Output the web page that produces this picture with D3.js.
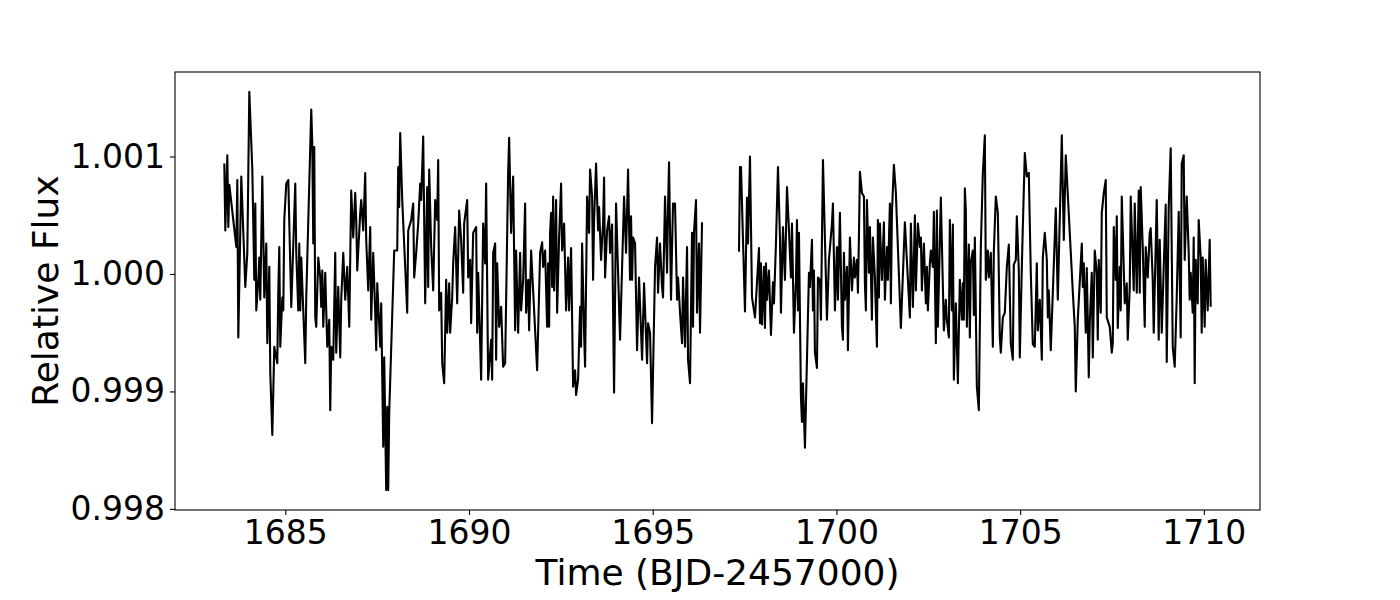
<!DOCTYPE html>
<html>
<head>
<meta charset="utf-8">
<script src="https://cdn.jsdelivr.net/npm/d3@7"></script>
<style>
  body { margin: 0; background: #fff; }
  text { font-family: "DejaVu Sans", sans-serif; fill: #000; }
</style>
</head>
<body>
<script>
// light curve, first orbit (before the data gap)
var timeA = [1683.340,1683.367,1683.422,1683.449,1683.476,1683.666,1683.694,1683.721,1683.802,1683.911,
  1683.966,1684.020,1684.102,1684.156,1684.183,1684.210,1684.265,1684.292,1684.319,1684.374,
  1684.428,1684.482,1684.510,1684.564,1684.591,1684.646,1684.700,1684.782,1684.809,1684.836,
  1684.863,1684.918,1684.945,1684.972,1685.026,1685.081,1685.162,1685.271,1685.298,1685.353,
  1685.380,1685.407,1685.434,1685.543,1685.570,1685.706,1685.734,1685.761,1685.788,1685.815,
  1685.842,1685.897,1685.951,1685.978,1686.006,1686.033,1686.087,1686.114,1686.142,1686.196,
  1686.223,1686.250,1686.305,1686.359,1686.386,1686.441,1686.495,1686.522,1686.577,1686.631,
  1686.686,1686.740,1686.794,1686.849,1686.903,1686.930,1686.958,1687.039,1687.066,1687.121,
  1687.175,1687.202,1687.257,1687.311,1687.338,1687.393,1687.447,1687.474,1687.502,1687.583,
  1687.610,1687.665,1687.692,1687.746,1687.774,1687.801,1687.828,1687.964,1688.046,1688.073,
  1688.100,1688.127,1688.182,1688.318,1688.345,1688.426,1688.481,1688.508,1688.562,1688.617,
  1688.671,1688.698,1688.753,1688.807,1688.862,1688.889,1688.916,1688.970,1689.025,1689.079,
  1689.134,1689.161,1689.188,1689.242,1689.270,1689.324,1689.378,1689.406,1689.460,1689.487,
  1689.542,1689.569,1689.623,1689.678,1689.732,1689.786,1689.841,1689.868,1689.950,1689.977,
  1690.031,1690.058,1690.113,1690.194,1690.222,1690.249,1690.303,1690.330,1690.358,1690.385,
  1690.439,1690.466,1690.521,1690.602,1690.630,1690.657,1690.711,1690.738,1690.766,1690.820,
  1690.874,1690.929,1690.983,1691.065,1691.092,1691.146,1691.201,1691.255,1691.282,1691.337,
  1691.391,1691.418,1691.473,1691.527,1691.554,1691.609,1691.636,1691.690,1691.854,1691.935,
  1691.990,1692.017,1692.071,1692.126,1692.153,1692.180,1692.207,1692.234,1692.262,1692.289,
  1692.316,1692.370,1692.398,1692.452,1692.506,1692.534,1692.588,1692.642,1692.697,1692.724,
  1692.778,1692.833,1692.887,1692.914,1692.969,1693.023,1693.050,1693.078,1693.132,1693.159,
  1693.214,1693.268,1693.295,1693.350,1693.377,1693.404,1693.458,1693.513,1693.540,1693.594,
  1693.649,1693.676,1693.703,1693.758,1693.812,1693.839,1693.894,1693.948,1694.002,1694.111,
  1694.220,1694.274,1694.329,1694.383,1694.410,1694.438,1694.465,1694.519,1694.574,1694.628,
  1694.710,1694.764,1694.846,1694.873,1694.927,1694.982,1695.063,1695.118,1695.145,1695.199,
  1695.254,1695.281,1695.335,1695.390,1695.417,1695.444,1695.498,1695.526,1695.553,1695.607,
  1695.662,1695.689,1695.743,1695.798,1695.825,1695.879,1695.934,1695.961,1696.015,1696.070,
  1696.097,1696.124,1696.178,1696.206,1696.260,1696.287,1696.342];
var fluxA = [1.00094,1.00037,1.00101,1.00040,1.00076,1.00023,1.00080,0.99946,1.00083,0.99989,
  1.00018,1.00155,1.00089,0.99995,1.00060,0.99969,0.99995,1.00014,0.99978,1.00083,
  0.99980,1.00026,0.99941,1.00006,0.99916,0.99863,0.99938,0.99924,0.99984,1.00023,
  0.99938,0.99980,0.99969,1.00046,1.00077,1.00080,0.99972,1.00077,1.00018,0.99969,
  1.00026,0.99969,1.00014,0.99924,0.99980,1.00140,1.00111,1.00026,1.00108,0.99963,
  0.99955,1.00014,0.99997,0.99972,1.00003,0.99955,1.00001,0.99969,0.99938,0.99961,
  0.99884,0.99938,0.99927,1.00018,0.99933,0.99989,0.99929,0.99978,1.00018,0.99978,
  1.00006,0.99955,1.00071,1.00031,1.00069,1.00046,1.00003,1.00052,1.00063,1.00037,
  1.00086,1.00029,0.99986,1.00040,0.99961,1.00018,0.99967,0.99935,0.99992,0.99938,
  0.99975,0.99853,0.99929,0.99816,0.99887,0.99816,0.99882,1.00020,1.00020,1.00091,
  1.00057,1.00120,1.00063,0.99967,1.00037,1.00046,1.00060,0.99997,1.00018,1.00043,
  1.00077,1.00063,1.00117,0.99975,1.00074,0.99989,1.00089,1.00023,0.99986,1.00063,
  1.00046,1.00097,0.99969,0.99984,0.99924,0.99907,0.99995,0.99950,0.99992,0.99950,
  0.99980,1.00009,1.00040,0.99975,1.00054,1.00029,0.99984,1.00043,1.00063,0.99997,
  1.00012,0.99958,1.00035,1.00040,0.99950,1.00001,0.99941,0.99910,0.99978,1.00043,
  1.00009,1.00077,0.99910,0.99944,0.99910,1.00018,1.00026,0.99927,1.00009,0.99955,
  0.99972,0.99921,0.99924,1.00086,1.00116,1.00035,1.00083,0.99952,1.00020,0.99950,
  1.00018,0.99969,0.99995,1.00060,0.99967,0.99995,0.99952,1.00020,0.99918,1.00018,
  1.00027,1.00006,1.00020,0.99955,1.00009,0.99955,1.00035,1.00052,0.99989,1.00066,
  0.99986,1.00063,0.99967,1.00031,1.00077,1.00020,1.00043,0.99969,1.00014,0.99969,
  1.00022,0.99904,0.99918,0.99897,0.99910,0.99972,0.99938,1.00026,0.99950,0.99921,
  1.00066,1.00035,1.00089,1.00066,0.99995,1.00046,1.00094,1.00037,1.00057,1.00012,
  1.00043,1.00082,0.99997,1.00037,1.00049,1.00018,1.00042,0.99899,1.00060,0.99944,
  1.00066,1.00018,1.00089,0.99995,1.00049,0.99995,1.00031,1.00026,0.99935,0.99997,
  0.99927,0.99992,0.99924,0.99958,0.99950,0.99873,1.00006,1.00031,0.99984,1.00026,
  0.99989,0.99980,1.00066,1.00001,1.00057,1.00095,0.99978,1.00023,1.00060,1.00060,
  0.99978,0.99997,0.99967,0.99941,0.99997,0.99938,1.00023,0.99927,0.99907,1.00035,
  0.99955,1.00036,1.00063,0.99967,1.00026,0.99950,1.00044];

// second orbit (after the gap)
var timeB = [1697.348,1697.375,1697.402,1697.511,1697.566,1697.593,1697.647,1697.702,1697.783,1697.892,
  1697.919,1697.946,1697.974,1698.028,1698.055,1698.082,1698.110,1698.164,1698.218,1698.273,
  1698.300,1698.354,1698.409,1698.463,1698.490,1698.545,1698.599,1698.654,1698.708,1698.762,
  1698.790,1698.844,1698.898,1698.926,1698.953,1698.980,1699.034,1699.062,1699.089,1699.143,
  1699.252,1699.279,1699.334,1699.361,1699.388,1699.415,1699.470,1699.497,1699.551,1699.578,
  1699.633,1699.742,1699.796,1699.878,1699.905,1699.959,1700.014,1700.041,1700.095,1700.150,
  1700.177,1700.204,1700.231,1700.286,1700.313,1700.367,1700.422,1700.476,1700.503,1700.558,
  1700.585,1700.612,1700.639,1700.694,1700.748,1700.775,1700.802,1700.830,1700.884,1700.911,
  1700.966,1700.993,1701.047,1701.102,1701.129,1701.156,1701.183,1701.238,1701.292,1701.319,
  1701.374,1701.401,1701.455,1701.482,1701.510,1701.564,1701.618,1701.754,1701.863,1701.999,
  1702.026,1702.081,1702.135,1702.162,1702.217,1702.271,1702.298,1702.326,1702.380,1702.434,
  1702.462,1702.489,1702.543,1702.570,1702.625,1702.652,1702.706,1702.734,1702.761,1702.842,
  1702.924,1702.978,1703.006,1703.060,1703.087,1703.142,1703.169,1703.196,1703.250,1703.305,
  1703.359,1703.414,1703.441,1703.468,1703.495,1703.522,1703.550,1703.604,1703.631,1703.658,
  1703.713,1703.740,1703.767,1703.822,1703.876,1703.930,1703.985,1704.039,1704.066,1704.121,
  1704.148,1704.202,1704.257,1704.284,1704.338,1704.393,1704.447,1704.474,1704.529,1704.583,
  1704.638,1704.692,1704.746,1704.801,1704.828,1704.882,1704.910,1704.964,1704.991,1705.046,
  1705.073,1705.127,1705.182,1705.236,1705.290,1705.345,1705.399,1705.454,1705.481,1705.535,
  1705.590,1705.617,1705.671,1705.726,1705.753,1705.780,1705.834,1705.970,1706.025,1706.134,
  1706.188,1706.242,1706.433,1706.487,1706.514,1706.569,1706.678,1706.705,1706.732,1706.786,
  1706.814,1706.841,1706.868,1706.895,1706.950,1706.977,1707.031,1707.086,1707.113,1707.140,
  1707.194,1707.222,1707.276,1707.330,1707.358,1707.439,1707.494,1707.521,1707.548,1707.602,
  1707.630,1707.657,1707.711,1707.738,1707.766,1707.847,1707.902,1707.929,1707.983,1708.010,
  1708.065,1708.092,1708.119,1708.174,1708.228,1708.255,1708.282,1708.337,1708.391,1708.418,
  1708.473,1708.527,1708.554,1708.609,1708.636,1708.718,1708.772,1708.799,1708.854,1708.908,
  1708.962,1708.990,1709.044,1709.098,1709.153,1709.207,1709.262,1709.316,1709.370,1709.398,
  1709.452,1709.479,1709.534,1709.588,1709.615,1709.642,1709.697,1709.724,1709.751,1709.778,
  1709.833,1709.860,1709.914,1709.942,1709.969,1710.023,1710.050,1710.105,1710.159,1710.186];
var fluxB = [1.00019,1.00091,1.00091,0.99968,1.00065,1.00026,1.00100,0.99980,0.99963,1.00022,
  0.99958,1.00009,0.99957,1.00006,0.99954,1.00009,0.99978,1.00003,0.99948,0.99993,
  0.99975,1.00026,1.00091,1.00031,0.99967,1.00040,0.99995,1.00074,1.00037,0.99997,
  1.00043,0.99950,0.99995,1.00046,0.99969,1.00035,0.99895,0.99874,0.99907,0.99852,
  1.00001,0.99989,1.00029,0.99969,1.00003,0.99933,0.99920,0.99997,0.99995,0.99961,
  1.00097,0.99961,1.00012,1.00043,1.00060,0.99969,1.00023,0.99978,1.00052,0.99955,
  0.99944,1.00018,0.99978,1.00006,0.99935,1.00031,0.99986,1.00014,0.99997,1.00012,
  0.99984,1.00031,1.00087,1.00069,1.00066,0.99992,0.99969,1.00063,1.00001,1.00040,
  0.99961,1.00031,0.99997,0.99938,1.00046,0.99980,1.00043,0.99995,1.00044,0.99978,
  1.00023,0.99995,1.00060,0.99975,1.00052,1.00093,1.00069,0.99954,1.00044,0.99963,
  1.00043,0.99972,1.00050,0.99986,1.00043,1.00023,1.00031,0.99986,1.00026,0.99975,
  1.00006,0.99969,1.00009,1.00020,1.00006,1.00053,0.99941,1.00054,0.99955,1.00065,
  0.99952,0.99978,0.99961,0.99946,1.00046,0.99969,1.00042,0.99910,0.99975,0.99907,
  0.99995,0.99961,0.99992,0.99961,1.00073,1.00054,0.99955,1.00025,0.99946,1.00010,
  1.00020,0.99965,1.00031,0.99904,0.99884,1.00023,1.00086,1.00118,0.99995,1.00020,
  0.99997,1.00018,0.99938,1.00019,1.00066,1.00052,0.99946,0.99933,0.99963,0.99967,
  1.00006,1.00025,0.99941,0.99927,1.00008,1.00012,1.00049,1.00003,0.99929,1.00006,
  1.00040,1.00103,1.00083,1.00086,1.00001,0.99940,0.99938,1.00009,0.99952,0.99978,
  0.99927,1.00014,1.00035,1.00012,0.99963,0.99986,0.99935,1.00056,0.99978,1.00118,
  1.00029,1.00101,0.99985,0.99955,0.99900,0.99961,1.00026,0.99989,1.00009,0.99950,
  1.00005,0.99961,0.99912,0.99958,1.00001,0.99929,1.00020,1.00001,0.99944,1.00012,
  0.99967,1.00052,1.00069,1.00080,0.99963,0.99955,0.99933,0.99941,1.00040,0.99995,
  1.00049,0.99954,1.00006,0.99969,1.00066,0.99975,0.99992,0.99944,0.99989,1.00066,
  1.00012,0.99986,1.00060,0.99984,1.00071,0.99984,1.00074,1.00023,0.99955,1.00023,
  0.99997,1.00035,1.00039,0.99995,0.99950,1.00063,0.99944,1.00029,0.99950,1.00006,
  1.00059,0.99925,1.00057,1.00107,0.99938,0.99921,0.99980,1.00053,0.99946,1.00094,
  1.00101,1.00012,1.00066,1.00018,0.99978,1.00001,0.99967,1.00031,0.99907,1.00012,
  0.99975,1.00046,1.00014,0.99950,1.00014,0.99955,1.00012,0.99969,1.00029,0.99972];

var xTicks = [1685, 1690, 1695, 1700, 1705, 1710];
var yTicks = [0.998, 0.999, 1.000, 1.001];

// set dimensions for the svg
var margin = {top: 72, right: 140, bottom: 90, left: 175};
var w = 1400 - margin.left - margin.right;
var h = 600 - margin.top - margin.bottom;

var segA = timeA.map(function(t, i) { return {t: t, f: fluxA[i]}; });
var segB = timeB.map(function(t, i) { return {t: t, f: fluxB[i]}; });
var all = segA.concat(segB);

// matplotlib-style 5% padding on both axes
function padded(ext) {
  var d = (ext[1] - ext[0]) * 0.05;
  return [ext[0] - d, ext[1] + d];
}

var xScale = d3.scaleLinear()
               .domain(padded(d3.extent(all, function(d) { return d.t; })))
               .range([0, w]);
var yScale = d3.scaleLinear()
               .domain(padded(d3.extent(all, function(d) { return d.f; })))
               .range([h, 0]);

var svg = d3.select("body").append("svg")
            .attr('width', 1400)
            .attr('height', 600);

var focus = svg.append('g')
               .attr('transform', 'translate(' + margin.left + ',' + margin.top + ')');

var line = d3.line()
             .x(function(d) { return xScale(d.t); })
             .y(function(d) { return yScale(d.f); });

[segA, segB].forEach(function(seg) {
  focus.append('path')
       .datum(seg)
       .attr('fill', 'none')
       .attr('stroke', '#000')
       .attr('stroke-width', 2.1)
       .attr('stroke-linejoin', 'round')
       .attr('d', line);
});

// axes
var xAxis = d3.axisBottom(xScale)
              .tickValues(xTicks)
              .tickFormat(d3.format('d'))
              .tickSizeInner(5).tickSizeOuter(0).tickPadding(5);
var yAxis = d3.axisLeft(yScale)
              .tickValues(yTicks)
              .tickFormat(d3.format('.3f'))
              .tickSizeInner(5).tickSizeOuter(0).tickPadding(5);

var gX = focus.append('g')
              .attr('transform', 'translate(0,' + h + ')')
              .call(xAxis);
var gY = focus.append('g')
              .call(yAxis);

[gX, gY].forEach(function(g) {
  g.select('.domain').remove();
  g.selectAll('line').attr('stroke', '#000').attr('stroke-width', 1.1);
  g.selectAll('text').style('font-size', '33px').style('font-family', '"DejaVu Sans", sans-serif');
});
gX.selectAll('text').attr('dy', '0.72em');

// frame
focus.append('rect')
     .attr('width', w)
     .attr('height', h)
     .attr('fill', 'none')
     .attr('stroke', '#000')
     .attr('stroke-width', 1.1);

// labels
focus.append('text')
     .attr('text-anchor', 'middle')
     .attr('transform', 'translate(' + (w / 2) + ',' + (h + 75) + ')')
     .style('font-size', '36px')
     .text('Time (BJD-2457000)');
focus.append('text')
     .attr('text-anchor', 'middle')
     .attr('transform', 'translate(' + (-117) + ',' + (h / 2) + ')rotate(-90)')
     .style('font-size', '36px')
     .text('Relative Flux');
</script>
</body>
</html>
